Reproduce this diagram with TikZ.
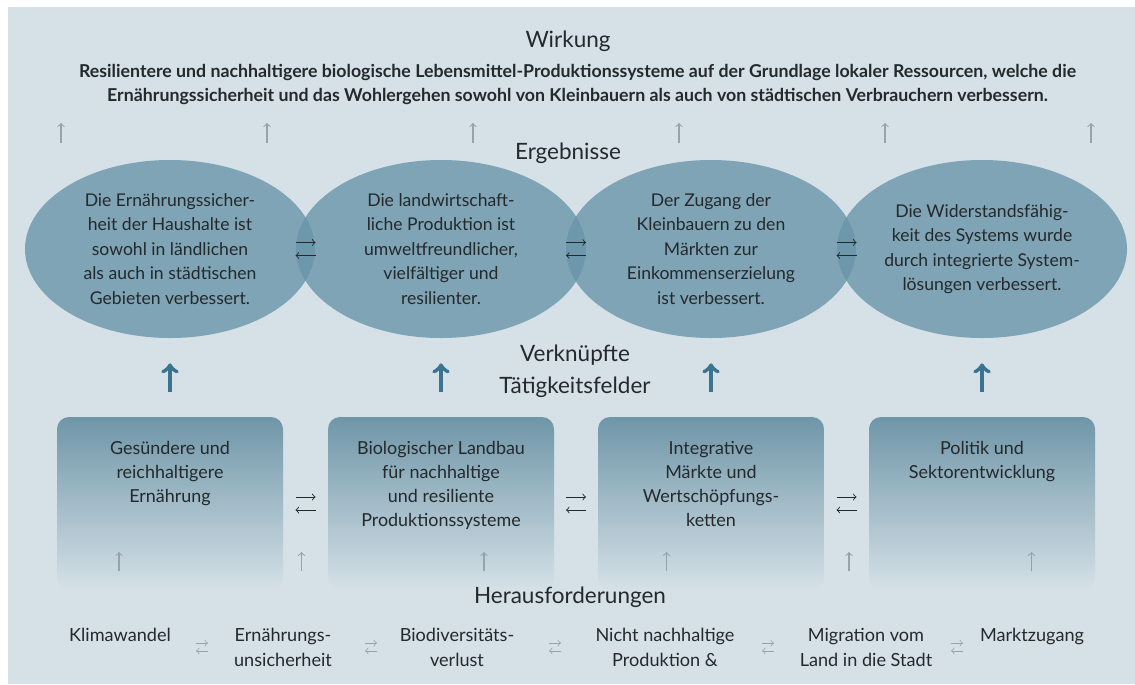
\documentclass[tikz,border=0pt]{standalone}
\usepackage{fontspec}
\setmainfont{Lato}
\usetikzlibrary{shapes.geometric,calc}

\definecolor{panel}{HTML}{D5E1E7}
\definecolor{ellfill}{HTML}{6894A8}
\definecolor{boxtop}{HTML}{6F96A8}
\definecolor{darkarrow}{HTML}{3A7490}
\definecolor{lightarrow}{HTML}{98A3A9}
\definecolor{ink}{HTML}{24292C}

\newcommand{\fieldtext}[1]{\parbox[c][3.46cm][t]{4.52cm}{\centering\vspace*{0.48cm}#1}}

\tikzset{
	heading/.style = {text = ink, align = center,
					  font = \fontsize{12.8}{18.2}\selectfont},
	result/.style = {shape = ellipse, fill = ellfill,
					 fill opacity = 0.78, text opacity = 1,
					 minimum width = 5.8cm, minimum height = 3.56cm,
					 inner sep = 0pt, align = center, text = ink,
					 font = \fontsize{10}{13.9}\selectfont},
	field/.style = {rounded corners = 0.24cm,
					top color = boxtop, bottom color = panel,
					minimum width = 4.52cm, minimum height = 3.46cm,
					inner sep = 0pt, text = ink,
					font = \fontsize{10.2}{13.7}\selectfont},
	challenge/.style = {anchor = north, align = center, text = ink,
						font = \fontsize{10.3}{14.2}\selectfont},
	uparrow/.style = {->, lightarrow, line width = 0.6pt},
	bigarrow/.style = {->, darkarrow, line width = 2.4pt,
					   shorten <= 0.5cm, shorten >= 0.5cm},
	pics/swap/.style = {code = {
		\draw[->] (-0.2, 0.13) -- (0.2, 0.13);
		\draw[->] (0.2, -0.13) -- (-0.2, -0.13);
	}}
}

\begin{document}
\begin{tikzpicture}

	\useasboundingbox (0,0) rectangle (22.7,-13.68);
	\fill[panel] (0.16,-0.14) rectangle (22.7,-13.68);

	\draw (11.36,-0.82) node[heading] (W) {Wirkung};
	\draw (11.55,-1.69) node[text = ink, align = center,
					 font = \bfseries\fontsize{10.1}{14.2}\selectfont] (WT)
		{Resilientere und nachhaltigere biologische Lebensmittel-Produktionssysteme auf der Grundlage lokaler Ressourcen, welche die\\
		 Ernährungssicherheit und das Wohlergehen sowohl von Kleinbauern als auch von städtischen Verbrauchern verbessern.};

	\foreach \x in {0,...,5}
		\draw[uparrow] (1.22 + 4.12*\x, -2.86) -- ++(0, 0.4);

	\draw (11.36,-3.06) node[heading] (R) {Ergebnisse};

	\draw (3.4,-4.98) node[result] (E1)
		{Die Ernährungssicher-\\heit der Haushalte ist\\sowohl in ländlichen\\als auch in städtischen\\Gebieten verbessert.};
	\draw (8.82,-4.98) node[result] (E2)
		{Die landwirtschaft-\\liche Produktion ist\\umweltfreundlicher,\\vielfältiger und\\resilienter.};
	\draw (14.22,-4.98) node[result] (E3)
		{Der Zugang der\\Kleinbauern zu den\\Märkten zur\\Einkommenserzielung\\ist verbessert.};
	\draw (19.64,-4.98) node[result] (E4)
		{Die Widerstandsfähig-\\keit des Systems wurde\\durch integrierte System-\\lösungen verbessert.};

	\pic[color = ink, line width = 0.5pt] at ($(E1.east)!0.5!(E2.west)$) {swap};
	\pic[color = ink, line width = 0.5pt] at ($(E2.east)!0.5!(E3.west)$) {swap};
	\pic[color = ink, line width = 0.5pt] at ($(E3.east)!0.5!(E4.west)$) {swap};

	\draw (11.5,-7.42) node[heading] (V) {Verknüpfte\\Tätigkeitsfelder};

	\draw (3.4,-10.07) node[field] (F1)
		{\fieldtext{Gesündere und\\reichhaltigere\\Ernährung}};
	\draw (8.82,-10.07) node[field] (F2)
		{\fieldtext{Biologischer Landbau\\für nachhaltige\\und resiliente\\Produktionssysteme}};
	\draw (14.22,-10.07) node[field] (F3)
		{\fieldtext{Integrative\\Märkte und\\Wertschöpfungs-\\ketten}};
	\draw (19.64,-10.07) node[field] (F4)
		{\fieldtext{Politik und\\Sektorentwicklung}};

	\pic[color = ink, line width = 0.5pt] at ($(F1.east)!0.5!(F2.west)$) {swap};
	\pic[color = ink, line width = 0.5pt] at ($(F2.east)!0.5!(F3.west)$) {swap};
	\pic[color = ink, line width = 0.5pt] at ($(F3.east)!0.5!(F4.west)$) {swap};

	\draw[bigarrow] (F1.north) -- (E1.south);
	\draw[bigarrow] (F2.north) -- (E2.south);
	\draw[bigarrow] (F3.north) -- (E3.south);
	\draw[bigarrow] (F4.north) -- (E4.south);

	\foreach \x in {0,...,5}
		\draw[uparrow] (2.38 + 3.65*\x, -11.42) -- ++(0, 0.38);

	\draw (11.4,-11.94) node[heading] (H) {Herausforderungen};

	\draw (2.4,-12.44) node[challenge] (C1) {Klimawandel};
	\draw (5.66,-12.44) node[challenge] (C2) {Ernährungs-\\unsicherheit};
	\draw (9.14,-12.44) node[challenge] (C3) {Biodiversitäts-\\verlust};
	\draw (13.3,-12.44) node[challenge] (C4) {Nicht nachhaltige\\Produktion \&};
	\draw (17.32,-12.44) node[challenge] (C5) {Migration vom\\Land in die Stadt};
	\draw (20.64,-12.44) node[challenge] (C6) {Marktzugang};

	\foreach \x in {4.04, 7.42, 11.1, 15.36, 19.14}
		\pic[scale = 0.6, color = lightarrow, line width = 0.45pt] at (\x, -12.94) {swap};

\end{tikzpicture}
\end{document}
